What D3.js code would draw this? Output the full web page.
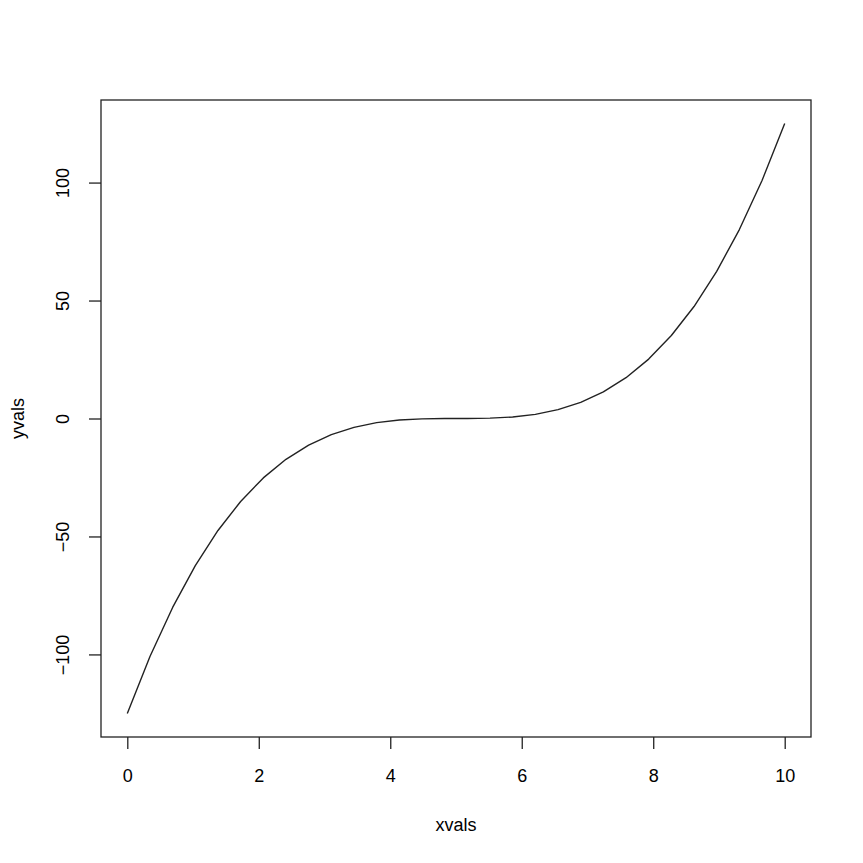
<!DOCTYPE html>
<html>
<meta charset="utf-8">
<head>
<style>
    body { margin: 0; background: white; }
    text { font-family: "Liberation Sans", Arial, sans-serif; fill: black; }
    .curve { fill: none; stroke: #222; stroke-width: 1.4px; stroke-linejoin: round; }
    .frame { fill: none; stroke: #222; stroke-width: 1.3px; }
</style>
</head>
<body>
<div id="viz"></div>
<script src="https://cdn.jsdelivr.net/npm/d3@7"></script>
<script>
const width = 863;
const height = 863;

const xvals = [0, 0.3448, 0.6897, 1.0345, 1.3793, 1.7241, 2.069, 2.4138, 2.7586, 3.1034,
    3.4483, 3.7931, 4.1379, 4.4828, 4.8276, 5.1724, 5.5172, 5.8621, 6.2069, 6.5517,
    6.8966, 7.2414, 7.5862, 7.931, 8.2759, 8.6207, 8.9655, 9.3103, 9.6552, 10];
const yvals = [-125, -100.88, -80.08, -62.36, -47.47, -35.16, -25.18, -17.3, -11.26, -6.82,
    -3.74, -1.76, -0.64, -0.14, -0.01, 0.01, 0.14, 0.64, 1.76, 3.74,
    6.82, 11.26, 17.3, 25.18, 35.16, 47.47, 62.36, 80.08, 100.88, 125];
const xticks = [0, 2, 4, 6, 8, 10];
const yticks = [-100, -50, 0, 50, 100];

const box = { left: 101, right: 811, top: 100, bottom: 737 };
const fontSize = 18;

const x = d3.scaleLinear().domain([-0.4, 10.4]).range([box.left, box.right]);
const y = d3.scaleLinear().domain([-135, 135]).range([box.bottom, box.top]);

const svg = d3.select("#viz")
    .append("svg")
    .attr("width", width)
    .attr("height", height);

svg.append("rect")
    .attr("class", "frame")
    .attr("x", box.left)
    .attr("y", box.top)
    .attr("width", box.right - box.left)
    .attr("height", box.bottom - box.top);

const xAxis = svg.append("g")
    .attr("transform", "translate(0," + box.bottom + ")")
    .call(d3.axisBottom(x).tickValues(xticks).tickSize(12).tickPadding(20).tickFormat(d3.format("d")));

const yAxis = svg.append("g")
    .attr("transform", "translate(" + box.left + ",0)")
    .call(d3.axisLeft(y).tickValues(yticks).tickSize(12).tickFormat(d => d < 0 ? "\u2212" + Math.abs(d) : d));

[xAxis, yAxis].forEach(a => {
    a.select(".domain").remove();
    a.selectAll("line").attr("stroke", "#222").attr("stroke-width", 1.3);
    a.selectAll("text").attr("font-size", fontSize).attr("font-family", "Liberation Sans, Arial, sans-serif");
});

yAxis.selectAll("text")
    .attr("x", null)
    .attr("dy", null)
    .attr("text-anchor", "middle")
    .attr("transform", "translate(-32,0) rotate(-90)");

svg.append("text")
    .attr("x", (box.left + box.right) / 2)
    .attr("y", 831)
    .attr("text-anchor", "middle")
    .attr("font-size", fontSize)
    .text("xvals");

svg.append("text")
    .attr("transform", "translate(24," + (box.top + box.bottom) / 2 + ") rotate(-90)")
    .attr("text-anchor", "middle")
    .attr("font-size", fontSize)
    .text("yvals");

const line = d3.line()
    .x((d, i) => x(xvals[i]))
    .y(d => y(d));

svg.append("path")
    .datum(yvals)
    .attr("class", "curve")
    .attr("d", line);
</script>
</body>
</html>
